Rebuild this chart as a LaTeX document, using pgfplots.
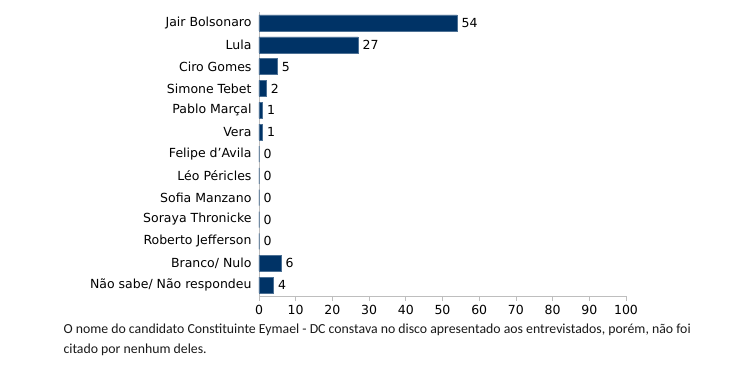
\documentclass[border=0pt]{standalone}
\usepackage{pgfplots}
\pgfplotsset{compat=1.18}
\usepackage{fontspec}
\setmainfont{DejaVu Sans}
\newfontfamily\notefont{Carlito}
\definecolor{barblue}{RGB}{0,51,102}
\definecolor{axgray}{RGB}{190,190,190}
\begin{document}
\begin{tikzpicture}
\path[use as bounding box] (-259pt,-70pt) rectangle (492pt,296pt);
\begin{axis}[
  at={(0,0)}, anchor=south west,
  scale only axis, width=367pt, height=284pt,
  xbar, bar width=16pt,
  xmin=0, xmax=100, ymin=-0.5, ymax=12.5, y dir=reverse,
  ytick={0,...,12},
  yticklabels={Jair Bolsonaro, Lula, Ciro Gomes, Simone Tebet, Pablo Marçal, Vera, Felipe d’Avila, Léo Péricles, Sofia Manzano, Soraya Thronicke, Roberto Jefferson, Branco/ Nulo, Não sabe/ Não respondeu},
  minor ytick={-0.5,0.5,...,12.5},
  xtick={0,10,...,100},
  axis x line*=bottom, axis y line*=left,
  axis line style={axgray, line width=0.8pt, -},
  tick align=outside,
  major tick length=5pt,
  ytick style={draw=none},
  minor tick length=5pt,
  minor tick style={axgray, line width=0.8pt},
  xtick style={axgray, line width=0.8pt},
  tick label style={font=\fontsize{12.5}{14}\selectfont, text=black},
  yticklabel style={xshift=1pt},
  xticklabel style={yshift=-1pt},
  /pgf/number format/assume math mode=true,
  nodes near coords,
  nodes near coords style={font=\fontsize{12.5}{14}\selectfont, text=black, xshift=1pt},
]
\addplot[fill=barblue, draw=barblue!70!white, line width=0.4pt] coordinates {
(54,0) (27,1) (5,2) (2,3) (1,4) (1,5) (0,6) (0,7) (0,8) (0,9) (0,10) (6,11) (4,12)};
\end{axis}
\node[anchor=west, font=\notefont\fontsize{13.8}{16}\selectfont, text=black!90] at (-199pt,-34pt) {O nome do candidato Constituinte Eymael - DC constava no disco apresentado aos entrevistados, porém, não foi};
\node[anchor=west, font=\notefont\fontsize{13.8}{16}\selectfont, text=black!90] at (-199pt,-54pt) {citado por nenhum deles.};
\end{tikzpicture}
\end{document}
